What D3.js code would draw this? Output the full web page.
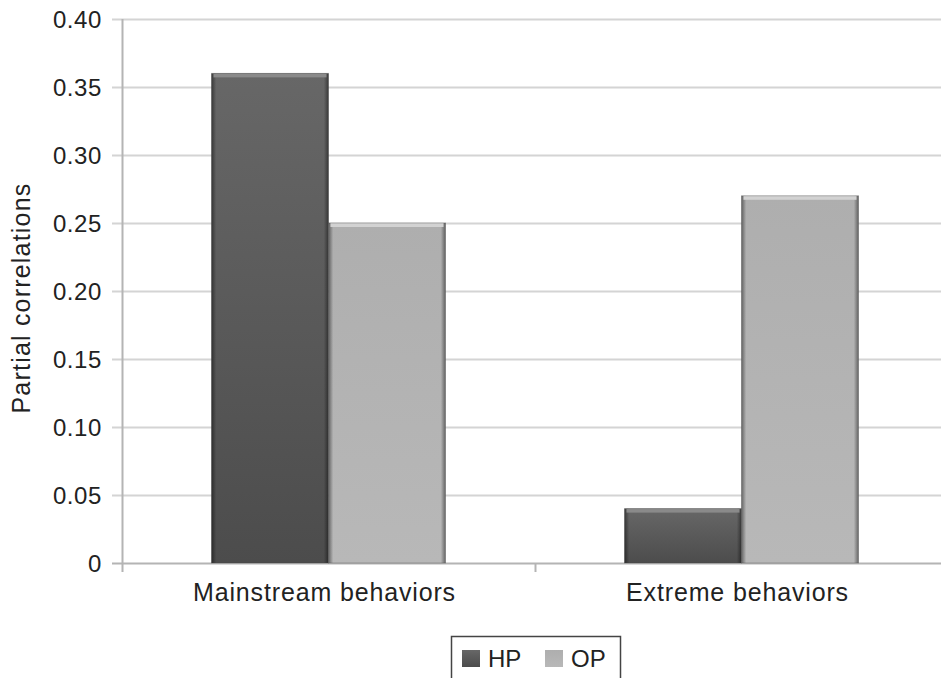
<!DOCTYPE html>
<html>
<head>
<meta charset="utf-8">
<script src="https://cdn.jsdelivr.net/npm/d3@7"></script>
<style>
  body { margin: 0; background: #fff; }
  text { font-family: "Liberation Sans", Arial, sans-serif; fill: #222; }
</style>
</head>
<body>
<div id="container"></div>
<script>
// Chart data
const categories = ["Mainstream behaviors", "Extreme behaviors"];
const seriesNames = ["HP", "OP"];
const hpValues = [0.36, 0.04];
const opValues = [0.25, 0.27];
const yTicks = [0, 0.05, 0.10, 0.15, 0.20, 0.25, 0.30, 0.35, 0.40];
const yTickLabels = ["0", "0.05", "0.10", "0.15", "0.20", "0.25", "0.30", "0.35", "0.40"];

const width = 941, height = 678;
const margin = { top: 19, left: 122, bottom: 115, right: -7 };

const svg = d3.select("#container")
    .append("svg")
    .attr("width", width)
    .attr("height", height);

const defs = svg.append("defs");

// gradients that give the bars their bevelled look
function addGrad(id, top, bottom) {
    const g = defs.append("linearGradient")
        .attr("id", id)
        .attr("x1", 0).attr("y1", 0).attr("x2", 0).attr("y2", 1);
    g.append("stop").attr("offset", "0%").attr("stop-color", top);
    g.append("stop").attr("offset", "100%").attr("stop-color", bottom);
}
addGrad("hpFill", "#676767", "#4c4c4c");
addGrad("opFill", "#aeaeae", "#b8b8b8");

function addSide(id, edge) {
    const g = defs.append("linearGradient")
        .attr("id", id)
        .attr("x1", 0).attr("y1", 0).attr("x2", 1).attr("y2", 0);
    g.append("stop").attr("offset", "0%").attr("stop-color", edge).attr("stop-opacity", 0.45);
    g.append("stop").attr("offset", "4%").attr("stop-color", edge).attr("stop-opacity", 0);
    g.append("stop").attr("offset", "96%").attr("stop-color", edge).attr("stop-opacity", 0);
    g.append("stop").attr("offset", "100%").attr("stop-color", edge).attr("stop-opacity", 0.45);
}
addSide("sideShade", "#000");

const colors = { HP: "url(#hpFill)", OP: "url(#opFill)" };
const topEdge = { HP: "#8a8a8a", OP: "#d2d2d2" };

const x0 = d3.scaleBand()
    .domain(categories)
    .range([margin.left, width - margin.right])
    .paddingInner(0)
    .paddingOuter(0);

const x1 = d3.scaleBand()
    .domain(seriesNames)
    .range([0, x0.bandwidth()])
    .paddingOuter(0.765)
    .paddingInner(0);

const y = d3.scaleLinear()
    .domain([0, 0.40])
    .range([height - margin.bottom, margin.top]);

// gridlines
svg.append("g")
    .selectAll("line")
    .data(yTicks)
    .enter()
    .append("line")
    .attr("x1", margin.left - 10)
    .attr("x2", width)
    .attr("y1", d => Math.round(y(d)) + 0.5)
    .attr("y2", d => Math.round(y(d)) + 0.5)
    .attr("stroke", d => d === 0 ? "#b4b4b4" : "#d4d4d4")
    .attr("stroke-width", 2);

// y axis line
svg.append("line")
    .attr("x1", margin.left + 0.5).attr("x2", margin.left + 0.5)
    .attr("y1", y(0.40)).attr("y2", y(0) + 9)
    .attr("stroke", "#b4b4b4")
    .attr("stroke-width", 2);

// y tick labels
svg.append("g")
    .attr("font-size", 24)
    .attr("letter-spacing", 0.6)
    .attr("text-anchor", "end")
    .selectAll("text")
    .data(yTicks)
    .enter()
    .append("text")
    .attr("x", 102)
    .attr("y", d => y(d))
    .attr("dy", "0.36em")
    .text((d, i) => yTickLabels[i]);

// x tick between categories
svg.append("line")
    .attr("x1", x0(categories[1]) + 0.5).attr("x2", x0(categories[1]) + 0.5)
    .attr("y1", y(0)).attr("y2", y(0) + 9)
    .attr("stroke", "#b4b4b4")
    .attr("stroke-width", 2);

// category labels
svg.append("g")
    .attr("font-size", 25)
    .attr("letter-spacing", 0.85)
    .attr("text-anchor", "middle")
    .selectAll("text")
    .data(categories)
    .enter()
    .append("text")
    .attr("x", d => x0(d) + x0.bandwidth() / 2 - 4)
    .attr("y", y(0) + 38)
    .text(d => d);

// y axis title
svg.append("text")
    .attr("transform", `translate(30, 298) rotate(-90)`)
    .attr("text-anchor", "middle")
    .attr("font-size", 25)
    .attr("letter-spacing", 1.2)
    .text("Partial correlations");

// bars
const barData = [];
categories.forEach((c, i) => {
    barData.push({ cat: c, key: "HP", value: hpValues[i] });
    barData.push({ cat: c, key: "OP", value: opValues[i] });
});

const bars = svg.append("g")
    .selectAll("g")
    .data(barData)
    .enter()
    .append("g")
    .attr("transform", d => `translate(${x0(d.cat) + x1(d.key)},0)`);

bars.append("rect")
    .attr("y", d => y(d.value))
    .attr("width", x1.bandwidth())
    .attr("height", d => y(0) - y(d.value))
    .attr("fill", d => colors[d.key]);

bars.append("rect")
    .attr("y", d => y(d.value))
    .attr("width", x1.bandwidth())
    .attr("height", d => y(0) - y(d.value))
    .attr("fill", "url(#sideShade)");

bars.append("rect")
    .attr("x", 2)
    .attr("y", d => y(d.value))
    .attr("width", x1.bandwidth() - 4)
    .attr("height", 4)
    .attr("fill", d => topEdge[d.key]);

bars.append("rect")
    .attr("y", d => y(d.value))
    .attr("width", x1.bandwidth())
    .attr("height", d => y(0) - y(d.value))
    .attr("fill", "none")
    .attr("stroke", "#444")
    .attr("stroke-opacity", 0.35)
    .attr("stroke-width", 1);

// legend
const legend = svg.append("g").attr("transform", "translate(451,636)");
legend.append("rect")
    .attr("x", 0.5).attr("y", 0.5)
    .attr("width", 169).attr("height", 60)
    .attr("fill", "#fff")
    .attr("stroke", "#444")
    .attr("stroke-width", 1.5);

const items = legend.selectAll("g.item")
    .data(seriesNames)
    .enter()
    .append("g")
    .attr("class", "item")
    .attr("transform", (d, i) => `translate(${11 + i * 83},14)`);

items.append("rect")
    .attr("width", 18).attr("height", 17)
    .attr("fill", d => colors[d]);

items.append("text")
    .attr("x", 26)
    .attr("y", 17)
    .attr("font-size", 24)
    .text(d => d);
</script>
</body>
</html>
